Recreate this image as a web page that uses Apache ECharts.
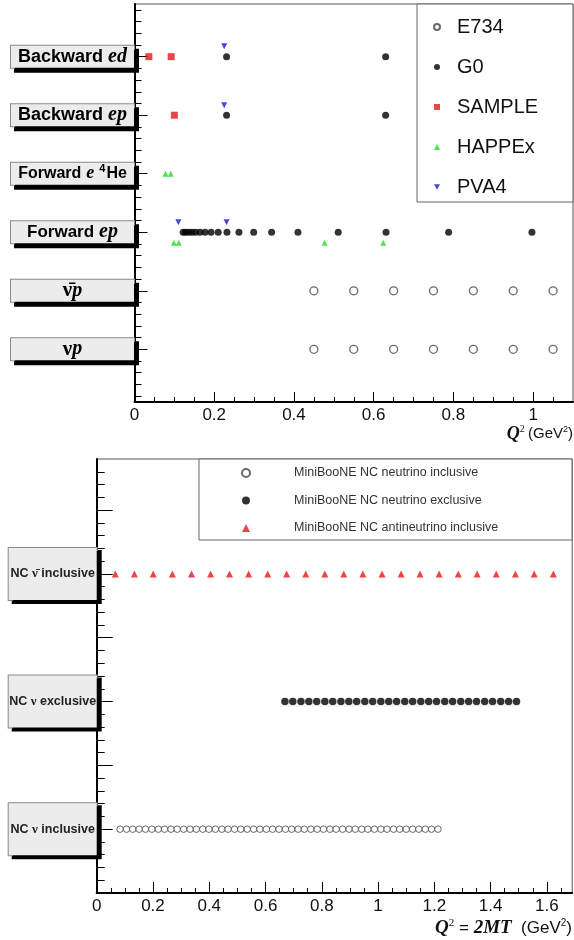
<!DOCTYPE html>
<html>
<head>
<meta charset="utf-8">
<script src="https://cdn.jsdelivr.net/npm/echarts@6/dist/echarts.min.js"></script>
<style>html,body{margin:0;padding:0;background:#fff}#c{width:574px;height:940px}</style>
</head>
<body>
<div id="c"></div>
<script>
// ---------- Top panel data ----------
const topRows = [1, 2, 3, 4, 5, 6];
const topRowLabels = [
  '{g|ν}{i|p}',
  '{g|ν̄}{i|p}',
  '{f1|Forward} {i|ep}',
  '{f2|Forward} {e2|e} {sup|4}{f2|He}',
  '{f|Backward} {i|ep}',
  '{f|Backward} {i|ed}'
];
const topXTicks = [0, 0.2, 0.4, 0.6, 0.8, 1];
const e734 = [
  [0.45, 2], [0.55, 2], [0.65, 2], [0.75, 2], [0.85, 2], [0.95, 2], [1.05, 2],
  [0.45, 1], [0.55, 1], [0.65, 1], [0.75, 1], [0.85, 1], [0.95, 1], [1.05, 1]
];
const g0 = [
  [0.231, 6], [0.630, 6],
  [0.231, 5], [0.630, 5],
  [0.122, 3], [0.128, 3], [0.136, 3], [0.144, 3], [0.153, 3], [0.164, 3], [0.177, 3],
  [0.192, 3], [0.210, 3], [0.232, 3], [0.262, 3], [0.299, 3], [0.344, 3], [0.410, 3],
  [0.511, 3], [0.631, 3], [0.788, 3], [0.997, 3]
];
const sample = [[0.036, 6], [0.092, 6], [0.100, 5]];
const happex = [[0.078, 4], [0.091, 4], [0.099, 2.82], [0.111, 2.82], [0.477, 2.82], [0.624, 2.82]];
const pva4 = [[0.225, 6.18], [0.225, 5.17], [0.110, 3.17], [0.231, 3.17]];

// ---------- Bottom panel data ----------
const botRows = [1, 2, 3];
const botRowLabels = [
  '{b|NC} {g|ν} {b|inclusive}',
  '{b|NC} {g|ν} {b|exclusive}',
  '{b|NC} {g|ν̄} {b|inclusive}'
];
const botXTicks = [0, 0.2, 0.4, 0.6, 0.8, 1, 1.2, 1.4, 1.6];
const nuInclX = [0.083, 0.106, 0.128, 0.151, 0.173, 0.196, 0.219, 0.241, 0.264, 0.286,
  0.309, 0.332, 0.354, 0.377, 0.399, 0.422, 0.445, 0.467, 0.490, 0.512,
  0.535, 0.558, 0.580, 0.603, 0.625, 0.648, 0.671, 0.693, 0.716, 0.738,
  0.761, 0.784, 0.806, 0.829, 0.851, 0.874, 0.897, 0.919, 0.942, 0.964,
  0.987, 1.010, 1.032, 1.055, 1.077, 1.100, 1.123, 1.145, 1.168, 1.190, 1.213];
const nuExclX = [0.669, 0.697, 0.726, 0.754, 0.782, 0.811, 0.839, 0.868, 0.896, 0.924,
  0.953, 0.981, 1.010, 1.038, 1.066, 1.095, 1.123, 1.152, 1.180, 1.208,
  1.237, 1.265, 1.294, 1.322, 1.350, 1.379, 1.407, 1.436, 1.464, 1.492];
const antiInclX = [0.066, 0.134, 0.201, 0.269, 0.337, 0.405, 0.472, 0.540, 0.608, 0.675,
  0.743, 0.811, 0.878, 0.946, 1.014, 1.082, 1.149, 1.217, 1.285, 1.352,
  1.420, 1.488, 1.555, 1.623];

// tick helpers (axis decoration only)
function steps(a, b, s) { const r = []; for (let v = a; v <= b + 1e-9; v += s) r.push(+v.toFixed(3)); return r; }
const topMinorY = steps(0.2, 6.8, 0.2);
const botMajorY = steps(0.5, 3.5, 0.5);
const botMinorY = steps(0.6, 3.8, 0.1);

const SANS = 'Liberation Sans';
const SERIF = 'Liberation Serif';
const DOWN_TRIANGLE = 'path://M0,0L10,0L5,9Z';

const chart = echarts.init(document.getElementById('c'), null, { renderer: 'canvas' });

const axisLineStyle = { color: '#000', width: 2 };

const option = {
  animation: false,
  backgroundColor: '#fff',
  grid: [
    { left: 134.5, top: 4, width: 438.5, height: 398, show: true, borderColor: '#555', borderWidth: 1, containLabel: false },
    { left: 96.7, top: 459, width: 475.5, height: 434, show: true, borderColor: '#555', borderWidth: 1, containLabel: false }
  ],
  xAxis: [
    {
      gridIndex: 0, type: 'value', min: 0, max: 1.1, interval: 0.2,
      axisLine: { lineStyle: axisLineStyle },
      axisTick: { inside: true, length: 10, customValues: topXTicks, lineStyle: { color: '#000', width: 1 } },
      minorTick: { show: true, splitNumber: 4, length: 5, lineStyle: { color: '#000', width: 1 } },
      axisLabel: { customValues: topXTicks, fontSize: 17, fontFamily: SANS, color: '#111', margin: 5 },
      splitLine: { show: false }
    },
    {
      gridIndex: 1, type: 'value', min: 0, max: 1.69, interval: 0.2,
      axisLine: { lineStyle: axisLineStyle },
      axisTick: { inside: true, length: 11, customValues: botXTicks, lineStyle: { color: '#000', width: 1 } },
      minorTick: { show: true, splitNumber: 4, length: 5, lineStyle: { color: '#000', width: 1 } },
      axisLabel: { customValues: botXTicks, fontSize: 17, fontFamily: SANS, color: '#111', margin: 5 },
      splitLine: { show: false }
    }
  ],
  yAxis: [
    {
      gridIndex: 0, type: 'value', min: 0.1, max: 6.9, position: 'left',
      axisLine: { lineStyle: axisLineStyle },
      axisTick: { inside: true, length: 13, customValues: topRows, lineStyle: { color: '#000', width: 1 } },
      axisLabel: {
        customValues: topRows,
        formatter: v => topRowLabels[Math.round(v) - 1],
        align: 'center', margin: 62,
        width: 115, padding: [1, 4, 1, 4],
        backgroundColor: '#ececec', borderColor: '#8a8a8a', borderWidth: 1,
        shadowColor: '#000', shadowOffsetX: 4, shadowOffsetY: 4, shadowBlur: 0,
        fontSize: 18, lineHeight: 20, fontFamily: SANS, fontWeight: 'bold', color: '#000',
        rich: {
          f: { fontFamily: SANS, fontWeight: 'bold', fontSize: 18, lineHeight: 20, color: '#000' },
          f1: { fontFamily: SANS, fontWeight: 'bold', fontSize: 17, lineHeight: 20, color: '#000' },
          f2: { fontFamily: SANS, fontWeight: 'bold', fontSize: 16, lineHeight: 20, color: '#000' },
          i: { fontFamily: SERIF, fontStyle: 'italic', fontWeight: 'bold', fontSize: 20, lineHeight: 20, color: '#000' },
          e2: { fontFamily: SERIF, fontStyle: 'italic', fontWeight: 'bold', fontSize: 18, lineHeight: 20, color: '#000' },
          sup: { fontFamily: SANS, fontWeight: 'bold', fontSize: 11, lineHeight: 10, color: '#000', padding: [0, 1, 10, 0] },
          g: { fontFamily: SERIF, fontSize: 21, lineHeight: 20, color: '#000' }
        }
      },
      splitLine: { show: false }
    },
    {
      gridIndex: 0, type: 'value', min: 0.1, max: 6.9, position: 'left',
      axisLine: { show: false },
      axisTick: { inside: true, length: 7, customValues: topMinorY, lineStyle: { color: '#000', width: 1 } },
      axisLabel: { show: false },
      splitLine: { show: false }
    },
    {
      gridIndex: 1, type: 'value', min: 0.5, max: 3.9, position: 'left',
      axisLine: { lineStyle: axisLineStyle },
      axisTick: { inside: true, length: 16, customValues: botMajorY, lineStyle: { color: '#000', width: 1 } },
      axisLabel: {
        customValues: botRows,
        formatter: v => botRowLabels[Math.round(v) - 1],
        align: 'center', margin: 44,
        width: 80, padding: [1, 4, 1, 4],
        backgroundColor: '#ececec', borderColor: '#8a8a8a', borderWidth: 1,
        shadowColor: '#000', shadowOffsetX: 4, shadowOffsetY: 3, shadowBlur: 0,
        fontSize: 12.5, lineHeight: 50, fontFamily: SANS, fontWeight: 'bold', color: '#222',
        rich: {
          b: { fontFamily: SANS, fontWeight: 'bold', fontSize: 12.5, lineHeight: 50, color: '#222' },
          g: { fontFamily: SERIF, fontSize: 13, lineHeight: 50, color: '#222' }
        }
      },
      splitLine: { show: false }
    },
    {
      gridIndex: 1, type: 'value', min: 0.5, max: 3.9, position: 'left',
      axisLine: { show: false },
      axisTick: { inside: true, length: 8, customValues: botMinorY, lineStyle: { color: '#000', width: 1 } },
      axisLabel: { show: false },
      splitLine: { show: false }
    }
  ],
  legend: [
    {
      data: ['E734', 'G0', 'SAMPLE', 'HAPPEx', 'PVA4'],
      orient: 'vertical', left: 417, top: 4,
      padding: [13, 30, 6, 16],
      itemWidth: 6, itemHeight: 6, itemGap: 20,
      selectedMode: false,
      formatter: n => '{sp| }{n|' + n + '}',
      textStyle: {
        fontSize: 20, lineHeight: 20, fontFamily: SANS, color: '#111',
        rich: { sp: { width: 12, fontSize: 20, lineHeight: 20 }, n: { fontSize: 20, lineHeight: 20, fontFamily: SANS, color: '#111' } }
      },
      z: 5
    },
    {
      data: ['MiniBooNE NC neutrino inclusive', 'MiniBooNE NC neutrino exclusive', 'MiniBooNE NC antineutrino inclusive'],
      orient: 'vertical', left: 199, top: 459,
      padding: [7, 10, 5, 42],
      itemWidth: 8, itemHeight: 8, itemGap: 13.5,
      selectedMode: false,
      formatter: n => '{sp| }{n|' + n + '}',
      textStyle: {
        fontSize: 12.5, lineHeight: 14, fontFamily: SANS, color: '#333',
        rich: { sp: { width: 39, fontSize: 12.5, lineHeight: 14 }, n: { fontSize: 12.5, lineHeight: 14, fontFamily: SANS, color: '#333' } }
      },
      z: 5
    }
  ],
  graphic: [
    { type: 'rect', z: 3, shape: { x: 417, y: 4, width: 156, height: 198 }, style: { fill: '#fff', stroke: '#666', lineWidth: 1 } },
    { type: 'rect', z: 3, shape: { x: 199, y: 459, width: 373, height: 81 }, style: { fill: '#fff', stroke: '#666', lineWidth: 1 } },
    {
      type: 'text', z: 5, x: 573, y: 434,
      style: {
        text: '{q|Q}{s|2} {t|(GeV}{s2|2}{t|)}',
        align: 'right', verticalAlign: 'middle',
        rich: {
          q: { fontFamily: SERIF, fontStyle: 'italic', fontWeight: 'bold', fontSize: 18, fill: '#111' },
          s: { fontFamily: SERIF, fontSize: 10, fill: '#111', padding: [0, 0, 9, 0] },
          t: { fontFamily: SANS, fontSize: 15, fill: '#111' },
          s2: { fontFamily: SANS, fontSize: 9, fill: '#111', padding: [0, 0, 8, 0] }
        }
      }
    },
    {
      type: 'text', z: 5, x: 572, y: 928,
      style: {
        text: '{q|Q}{s|2}{t| = }{q|2MT}{t|  (GeV}{s2|2}{t|)}',
        align: 'right', verticalAlign: 'middle',
        rich: {
          q: { fontFamily: SERIF, fontStyle: 'italic', fontWeight: 'bold', fontSize: 19, fill: '#111' },
          s: { fontFamily: SERIF, fontSize: 11, fill: '#111', padding: [0, 0, 10, 0] },
          t: { fontFamily: SANS, fontSize: 17, fill: '#111' },
          s2: { fontFamily: SANS, fontSize: 10, fill: '#111', padding: [0, 0, 9, 0] }
        }
      }
    }
  ],
  series: [
    { name: 'E734', type: 'scatter', xAxisIndex: 0, yAxisIndex: 0, data: e734, symbol: 'circle', symbolSize: 8,
      itemStyle: { color: '#fff', borderColor: '#444', borderWidth: 1.3 } },
    { name: 'G0', type: 'scatter', xAxisIndex: 0, yAxisIndex: 0, data: g0, symbol: 'circle', symbolSize: 7,
      itemStyle: { color: '#000' } },
    { name: 'SAMPLE', type: 'scatter', xAxisIndex: 0, yAxisIndex: 0, data: sample, symbol: 'rect', symbolSize: 7,
      itemStyle: { color: '#e8141c' } },
    { name: 'HAPPEx', type: 'scatter', xAxisIndex: 0, yAxisIndex: 0, data: happex, symbol: 'triangle', symbolSize: 6,
      itemStyle: { color: '#22dd22' } },
    { name: 'PVA4', type: 'scatter', xAxisIndex: 0, yAxisIndex: 0, data: pva4, symbol: DOWN_TRIANGLE, symbolSize: 6,
      itemStyle: { color: '#1a1acc' } },
    { name: 'MiniBooNE NC neutrino inclusive', type: 'scatter', xAxisIndex: 1, yAxisIndex: 2,
      data: nuInclX.map(x => [x, 1]), symbol: 'circle', symbolSize: 6.5,
      itemStyle: { color: '#fff', borderColor: '#444', borderWidth: 1 } },
    { name: 'MiniBooNE NC neutrino exclusive', type: 'scatter', xAxisIndex: 1, yAxisIndex: 2,
      data: nuExclX.map(x => [x, 2]), symbol: 'circle', symbolSize: 7.5,
      itemStyle: { color: '#000' } },
    { name: 'MiniBooNE NC antineutrino inclusive', type: 'scatter', xAxisIndex: 1, yAxisIndex: 2,
      data: antiInclX.map(x => [x, 3]), symbol: 'triangle', symbolSize: 7,
      itemStyle: { color: '#e8141c' } }
  ]
};
chart.setOption(option);
</script>
</body>
</html>
